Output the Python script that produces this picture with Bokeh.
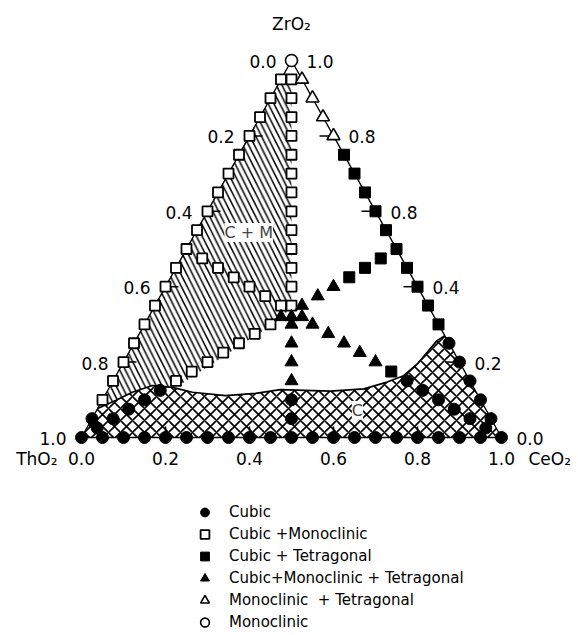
from bokeh.plotting import figure
from bokeh.models import Range1d, Label, Legend, LegendItem
from bokeh.core.properties import value
from bokeh.embed import file_html
from bokeh.resources import INLINE

FONT = "DejaVu Sans"

# ---- data: compositions as (CeO2, ZrO2) mole fractions; ThO2 = 1 - CeO2 - ZrO2 ----
cubic_ce = [0.0, 0.05, 0.10, 0.15, 0.20, 0.25, 0.30, 0.35, 0.40, 0.45, 0.50,
            0.55, 0.60, 0.65, 0.70, 0.75, 0.80, 0.85, 0.90, 0.95, 1.0,
            0.0, 0.025, 0.05, 0.075, 0.10, 0.125,
            0.475, 0.45,
            0.70, 0.75, 0.80, 0.85, 0.90, 0.95,
            0.75, 0.80, 0.85, 0.90, 0.95]
cubic_zr = [0.0] * 21 + [
            0.05, 0.025, 0.05, 0.075, 0.10, 0.125,
            0.05, 0.10,
            0.15, 0.125, 0.10, 0.075, 0.05, 0.025,
            0.25, 0.20, 0.15, 0.10, 0.05]

cm_ce = [0.0] * 18 + [
         0.025, 0.05, 0.075, 0.10, 0.125, 0.15, 0.175, 0.20, 0.225, 0.25, 0.275, 0.30, 0.325,
         0.05, 0.10, 0.15, 0.20, 0.25, 0.30,
         0.15, 0.175, 0.20, 0.225, 0.25, 0.275, 0.30]
cm_zr = [0.95, 0.90, 0.85, 0.80, 0.75, 0.70, 0.65, 0.60, 0.55, 0.50, 0.45, 0.40,
         0.35, 0.30, 0.25, 0.20, 0.15, 0.10,
         0.95, 0.90, 0.85, 0.80, 0.75, 0.70, 0.65, 0.60, 0.55, 0.50, 0.45, 0.40, 0.35,
         0.475, 0.45, 0.425, 0.40, 0.375, 0.35,
         0.15, 0.175, 0.20, 0.225, 0.25, 0.275, 0.30]

ct_ce = [0.25, 0.30, 0.35, 0.40, 0.45, 0.50, 0.55, 0.60, 0.65, 0.70,
         0.425, 0.45, 0.475, 0.65]
ct_zr = [0.75, 0.70, 0.65, 0.60, 0.55, 0.50, 0.45, 0.40, 0.35, 0.30,
         0.425, 0.45, 0.475, 0.175]

cmt_ce = [0.315, 0.34, 0.365, 0.35, 0.375, 0.40, 0.425, 0.35, 0.375, 0.40,
          0.40, 0.45, 0.50, 0.55, 0.60]
cmt_zr = [0.32, 0.32, 0.32, 0.30, 0.25, 0.20, 0.15, 0.35, 0.375, 0.40,
          0.30, 0.275, 0.25, 0.225, 0.20]

mt_ce = [0.05, 0.10, 0.15, 0.20]
mt_zr = [0.95, 0.90, 0.85, 0.80]

mono_ce = [0.0]
mono_zr = [1.0]

# boundary of the cubic (C) field, read along its upper edge
c_bound_ce = [0.0, 0.032, 0.061, 0.10, 0.15, 0.204, 0.287, 0.356, 0.41, 0.531,
              0.608, 0.654, 0.685, 0.702, 0.710, 0.718, 0.73]
c_bound_zr = [0.077, 0.098, 0.12, 0.138, 0.133, 0.12, 0.111, 0.117, 0.127, 0.123,
              0.129, 0.147, 0.164, 0.195, 0.226, 0.257, 0.27]

# outline of the cubic + monoclinic (C+M) field
cm_field_ce = [0.0, 0.02, 0.3275, 0.31, 0.165, 0.15, 0.10, 0.061, 0.032, 0.0]
cm_field_zr = [0.96, 0.96, 0.345, 0.305, 0.14, 0.133, 0.138, 0.12, 0.098, 0.077]

edge_ce = [0.0, 1.0, 0.0, 0.0]
edge_zr = [0.0, 0.0, 1.0, 0.0]

tick_vals = [0.2, 0.4, 0.6, 0.8]
bottom_vals = [0.0, 0.2, 0.4, 0.6, 0.8, 1.0]
bottom_labels = ["0.0", "0.2", "0.4", "0.6", "0.8", "1.0"]
left_vals = [0.0, 0.2, 0.4, 0.6, 0.8, 1.0]          # ThO2 fraction on left edge
left_labels = ["0.0", "0.2", "0.4", "0.6", "0.8", "1.0"]
right_vals = [1.0, 0.8, 0.6, 0.4, 0.2, 0.0]         # ZrO2 fraction on right edge
right_labels = ["1.0", "0.8", "0.8", "0.4", "0.2", "0.0"]

legend_labels = ["Cubic", "Cubic +Monoclinic", "Cubic + Tetragonal",
                 "Cubic+Monoclinic + Tetragonal", "Monoclinic  + Tetragonal", "Monoclinic"]

# ---- geometry ----
W, H = 576, 633
PX_X, PX_Y = 420.0, 377.0       # pixels per unit
X0, Y0 = 81.0, 437.0            # pixel position of the ThO2 corner inside the figure


def tx(ce, zr):
    return [c + z / 2.0 for c, z in zip(ce, zr)]


p = figure(width=W, height=H, output_backend="svg", toolbar_location=None,
           x_axis_location=None, y_axis_location=None, min_border=0,
           x_range=Range1d(-X0 / PX_X, (W - X0) / PX_X),
           y_range=Range1d(-(H - Y0) / PX_Y, Y0 / PX_Y))
p.grid.visible = False
p.outline_line_color = None
p.background_fill_color = "white"

# fields
p.patch(tx(cm_field_ce, cm_field_zr), cm_field_zr, fill_color="white", line_color=None,
        hatch_pattern="\\", hatch_scale=11.5, hatch_weight=1.5, hatch_color="black")
c_ce = [0.0] + c_bound_ce + [1.0]
c_zr = [0.0] + c_bound_zr + [0.0]
p.patch(tx(c_ce, c_zr), c_zr, fill_color="white", line_color=None,
        hatch_pattern="x", hatch_scale=12, hatch_weight=1.6, hatch_color="black")
p.line(tx(c_bound_ce, c_bound_zr), c_bound_zr, line_color="black", line_width=1.7)

# triangle edges
p.line(tx(edge_ce, edge_zr), edge_zr, line_color="black", line_width=1.4)

# inner ticks
lz = [1.0 - v for v in tick_vals]
lx = tx([0.0] * 4, lz)
p.segment(lx, lz, [x + 13 / PX_X for x in lx], lz, line_color="black", line_width=1.5)
rz = list(tick_vals)
rx = tx([1.0 - v for v in rz], rz)
p.segment(rx, rz, [x - 14 / PX_X for x in rx], rz, line_color="black", line_width=1.5)
p.segment(tick_vals, [0.0] * 4, tick_vals, [11 / PX_Y] * 4, line_color="black", line_width=1.5)

# markers
r_cubic = p.scatter(tx(cubic_ce, cubic_zr), cubic_zr, marker="circle", size=12,
                    fill_color="black", line_color="black")
r_cm = p.scatter(tx(cm_ce, cm_zr), cm_zr, marker="square", size=10,
                 fill_color="white", line_color="black", line_width=1.8)
r_ct = p.scatter(tx(ct_ce, ct_zr), ct_zr, marker="square", size=11,
                 fill_color="black", line_color="black")
r_cmt = p.scatter(tx(cmt_ce, cmt_zr), cmt_zr, marker="triangle", size=13,
                  fill_color="black", line_color="black")
r_mt = p.scatter(tx(mt_ce, mt_zr), mt_zr, marker="triangle", size=13,
                 fill_color="white", line_color="black", line_width=1.6)
r_mono = p.scatter(tx(mono_ce, mono_zr), mono_zr, marker="circle", size=12,
                   fill_color="white", line_color="black", line_width=1.6)

# axis labels
tf = value(FONT)
fs = "17px"
lzs = [1.0 - v for v in left_vals]
p.text(tx([0.0] * 6, lzs), lzs, text=left_labels, text_font=tf, text_font_size=fs,
       text_align="right", text_baseline="middle", x_offset=-15, y_offset=1)
rcs = [1.0 - v for v in right_vals]
p.text(tx(rcs, right_vals), right_vals, text=right_labels, text_font=tf, text_font_size=fs,
       text_align="left", text_baseline="middle", x_offset=15, y_offset=1)
p.text(bottom_vals, [0.0] * 6, text=bottom_labels, text_font=tf, text_font_size=fs,
       text_align="center", text_baseline="middle", y_offset=21)
p.text([0.0], [0.0], text=["ThO₂"], text_font=tf, text_font_size=fs,
       text_align="right", text_baseline="middle", x_offset=-24, y_offset=21)
p.text([1.0], [0.0], text=["CeO₂"], text_font=tf, text_font_size=fs,
       text_align="left", text_baseline="middle", x_offset=27, y_offset=21)
p.text([0.5], [1.0], text=["ZrO₂"], text_font=tf, text_font_size=fs,
       text_align="center", text_baseline="middle", y_offset=-37)

# field labels
cm_lab = (0.126, 0.544)
c_lab = (0.621, 0.072)
p.add_layout(Label(x=cm_lab[0] + cm_lab[1] / 2, y=cm_lab[1], text="C + M",
                   text_font=FONT, text_font_size="16px", text_align="center",
                   text_baseline="middle", background_fill_color="white"))
p.add_layout(Label(x=c_lab[0] + c_lab[1] / 2, y=c_lab[1], text="C",
                   text_font=FONT, text_font_size="16px", text_align="center",
                   text_baseline="middle", background_fill_color="white"))

legend = Legend(items=[LegendItem(label=l, renderers=[r]) for l, r in
                       zip(legend_labels, [r_cubic, r_cm, r_ct, r_cmt, r_mt, r_mono])],
                location=(192, 0), label_text_font=FONT, label_text_font_size="15px",
                label_text_color="black",
                glyph_width=25, glyph_height=22, label_height=22, spacing=0, padding=0,
                margin=0, label_standoff=12, border_line_color=None,
                background_fill_alpha=0)
p.add_layout(legend)

open("out.html", "w").write(file_html(p, INLINE))
